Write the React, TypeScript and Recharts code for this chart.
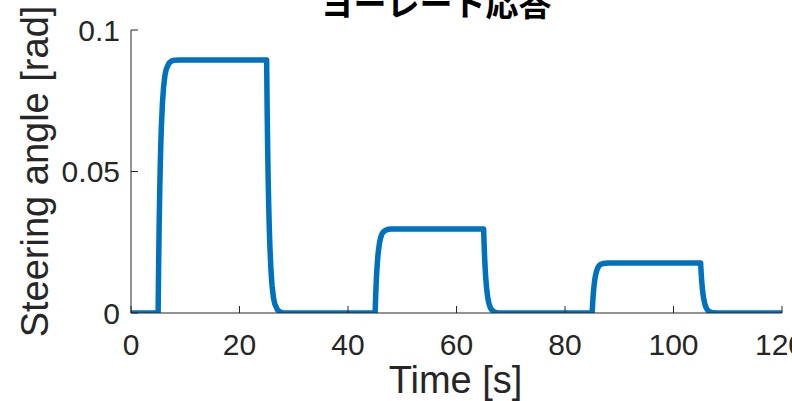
import React from 'react';
import { LineChart, Line, XAxis, YAxis, Label } from 'recharts';

// Time samples [s]
const time = [
  0, 5, 5.1, 5.2, 5.3, 5.4, 5.5, 5.6, 5.8, 6, 6.25, 6.5, 7, 7.5, 8, 9,
  25, 25.1, 25.2, 25.3, 25.4, 25.5, 25.6, 25.8, 26, 26.25, 26.5, 27, 27.5, 28, 29,
  45, 45.1, 45.2, 45.3, 45.4, 45.5, 45.6, 45.8, 46, 46.25, 46.5, 47, 47.5, 48, 49,
  65, 65.1, 65.2, 65.3, 65.4, 65.5, 65.6, 65.8, 66, 66.25, 66.5, 67, 67.5, 68, 69,
  85, 85.1, 85.2, 85.3, 85.4, 85.5, 85.6, 85.8, 86, 86.25, 86.5, 87, 87.5, 88, 89,
  105, 105.1, 105.2, 105.3, 105.4, 105.5, 105.6, 105.8, 106, 106.25, 106.5, 107, 107.5, 108, 109,
  120,
];

// Steering angle [rad]
const angle = [
  0, 0, 0.0178, 0.0321, 0.0435, 0.0527, 0.06, 0.0658, 0.0743, 0.0797, 0.0839, 0.0862, 0.0883, 0.0891, 0.0893, 0.0894,
  0.0894, 0.0716, 0.0573, 0.0459, 0.0367, 0.0294, 0.0236, 0.0151, 0.0097, 0.0055, 0.0032, 0.0011, 0.0003, 0.0001, 0,
  0, 0.0059, 0.0107, 0.0145, 0.0175, 0.0199, 0.0219, 0.0247, 0.0265, 0.0279, 0.0286, 0.0293, 0.0296, 0.0297, 0.0297,
  0.0297, 0.0238, 0.019, 0.0152, 0.0122, 0.0098, 0.0078, 0.005, 0.0032, 0.0018, 0.0011, 0.0003, 0.0001, 0, 0,
  0, 0.0035, 0.0064, 0.0086, 0.0104, 0.0119, 0.013, 0.0147, 0.0158, 0.0166, 0.0171, 0.0175, 0.0176, 0.0177, 0.0177,
  0.0177, 0.0142, 0.0113, 0.0091, 0.0073, 0.0058, 0.0047, 0.003, 0.0019, 0.0011, 0.0006, 0.0002, 0.0001, 0, 0,
  0,
];

const xTicks = [0, 20, 40, 60, 80, 100, 120];
const yTicks = [0, 0.05, 0.1];
const yTickLabels = ['0', '0.05', '0.1'];

const title = 'ヨーレート応答';
const xLabel = 'Time [s]';
const yLabel = 'Steering angle [rad]';

const data = time.map((t, i) => ({ t, v: angle[i] }));

const TEXT = '#262626';
const FONT = '"Liberation Sans", Arial, Helvetica, sans-serif';

const XTick = (props: any) => {
  const { x, y, payload } = props;
  return (
    <text x={x} y={y + 49} textAnchor="middle" fill={TEXT} fontSize={30} fontFamily={FONT}>
      {String(payload.value)}
    </text>
  );
};

const YTick = (props: any) => {
  const { x, y, payload } = props;
  const idx = yTicks.indexOf(payload.value);
  return (
    <text x={x - 18} y={y} dy="0.36em" textAnchor="end" fill={TEXT} fontSize={30} fontFamily={FONT}>
      {idx >= 0 ? yTickLabels[idx] : String(payload.value)}
    </text>
  );
};

const EmptyTick = () => <g />;

const XLabelContent = (props: any) => {
  const vb = props.viewBox;
  return (
    <text x={vb.x + vb.width / 2 - 1} y={vb.y + 80} textAnchor="middle" fill={TEXT} fontSize={38} fontFamily={FONT}>
      {xLabel}
    </text>
  );
};

const YLabelContent = (props: any) => {
  const vb = props.viewBox;
  const cx = vb.x + 48;
  const cy = vb.y + vb.height / 2;
  return (
    <text x={cx} y={cy} textAnchor="middle" transform={`rotate(-90 ${cx} ${cy})`} fill={TEXT} fontSize={38} fontFamily={FONT}>
      {yLabel}
    </text>
  );
};

export default function App() {
  return (
    <div style={{ position: 'absolute', left: 0, top: 0, width: 792, height: 401, overflow: 'hidden', background: '#fff' }}>
      <LineChart width={792} height={401} data={data} margin={{ top: 30, right: 10, bottom: 0, left: 0 }}>
        <XAxis
          dataKey="t"
          type="number"
          domain={[0, 120]}
          ticks={xTicks}
          tick={XTick}
          tickSize={-7}
          tickMargin={0}
          height={88}
          stroke={TEXT}
          axisLine={{ stroke: TEXT }}
          tickLine={{ stroke: TEXT }}
          allowDataOverflow
        >
          <Label content={XLabelContent} />
        </XAxis>
        <XAxis
          xAxisId="top"
          orientation="top"
          type="number"
          domain={[0, 120]}
          ticks={xTicks}
          tick={EmptyTick}
          tickSize={-7}
          height={0}
          axisLine={{ stroke: TEXT }}
          tickLine={{ stroke: TEXT }}
          allowDataOverflow
        />
        <YAxis
          type="number"
          domain={[0, 0.1]}
          ticks={yTicks}
          tick={YTick}
          tickSize={-7}
          tickMargin={0}
          width={131}
          axisLine={{ stroke: TEXT }}
          tickLine={{ stroke: TEXT }}
          allowDataOverflow
        >
          <Label content={YLabelContent} />
        </YAxis>
        <YAxis
          yAxisId="right"
          orientation="right"
          type="number"
          domain={[0, 0.1]}
          ticks={yTicks}
          tick={EmptyTick}
          tickSize={-7}
          width={0}
          axisLine={{ stroke: TEXT }}
          tickLine={{ stroke: TEXT }}
          allowDataOverflow
        />
        <Line
          dataKey="v"
          type="linear"
          stroke="#0072BD"
          strokeWidth={5.5}
          dot={false}
          strokeLinejoin="round"
          isAnimationActive={false}
        />
      </LineChart>
      <div
        style={{
          position: 'absolute',
          left: 236,
          top: -14,
          width: 400,
          textAlign: 'center',
          fontFamily: '"Noto Sans CJK JP", sans-serif',
          fontWeight: 'bold',
          fontSize: 33,
          lineHeight: '33px',
          color: '#000',
          whiteSpace: 'nowrap',
        }}
      >
        {title}
      </div>
    </div>
  );
}
